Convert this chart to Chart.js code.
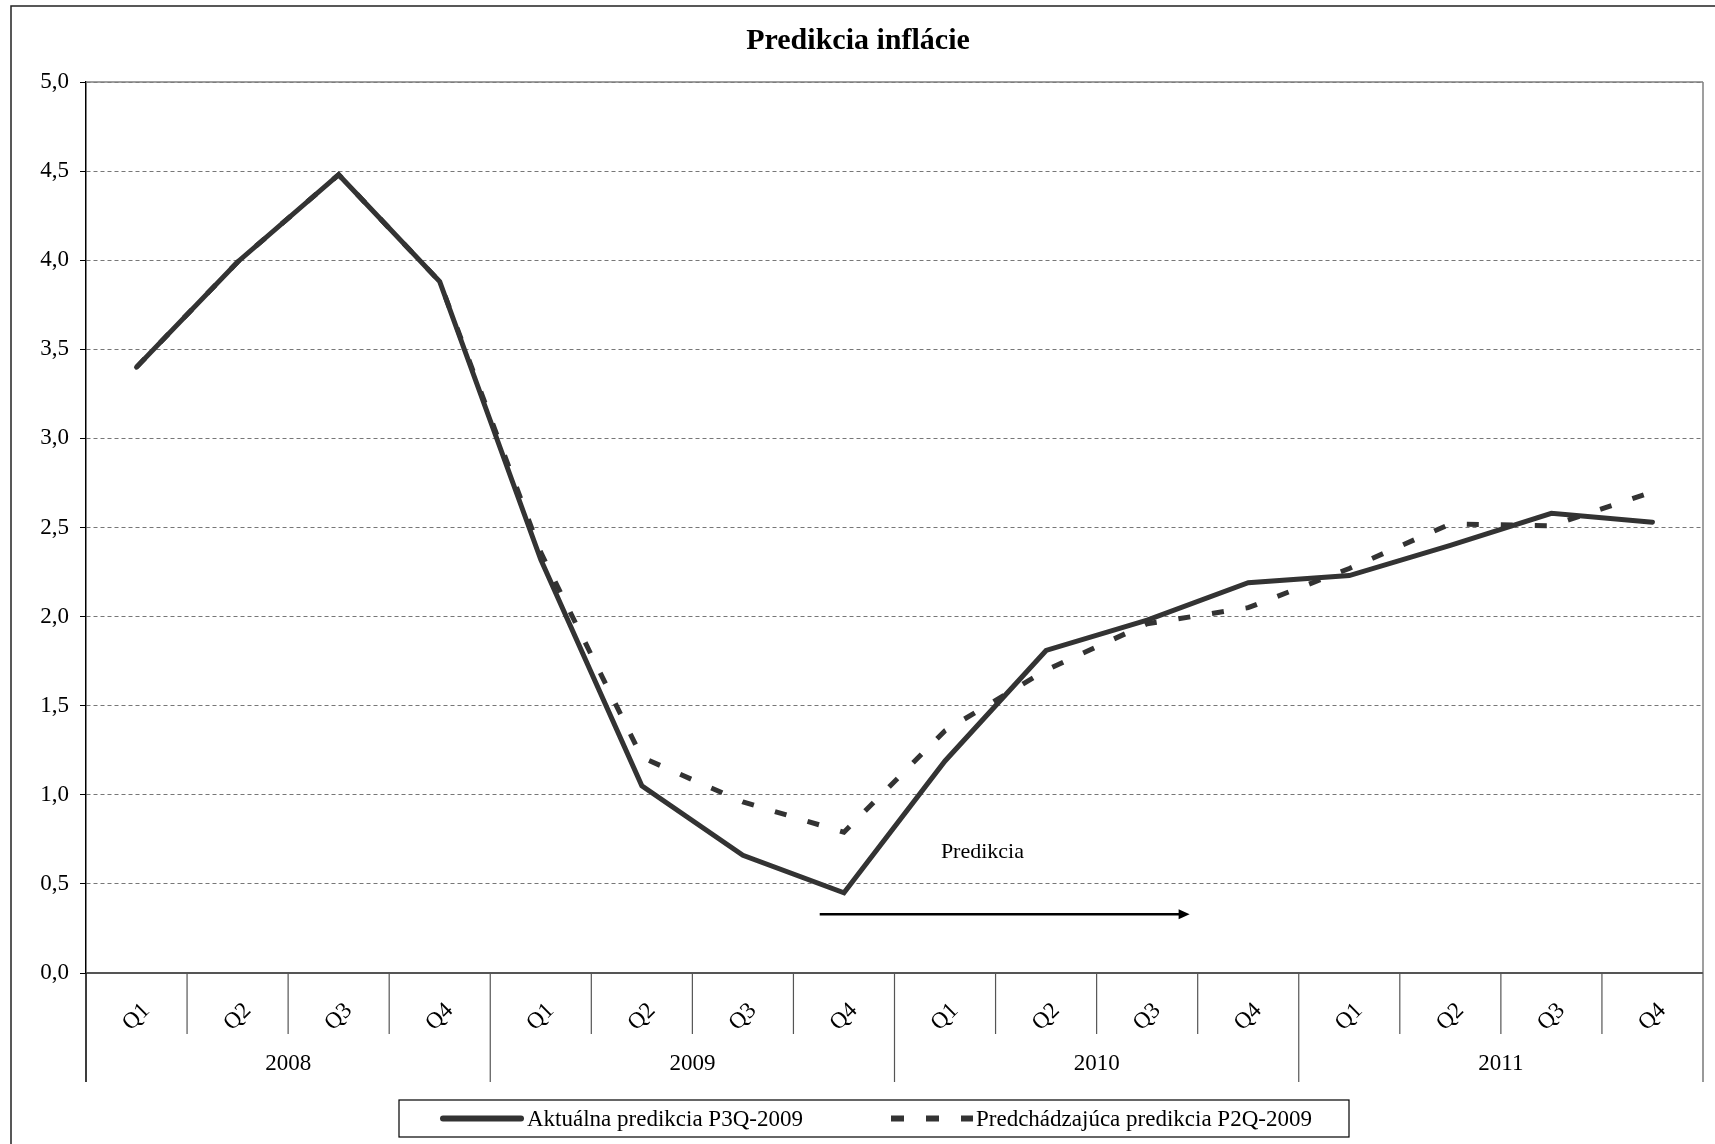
<!DOCTYPE html>
<html>
<head>
<meta charset="utf-8">
<script src="https://cdn.jsdelivr.net/npm/chart.js@4.4.1/dist/chart.umd.min.js"></script>
<style>
html,body{margin:0;padding:0;background:#fff;}
canvas{display:block;}
</style>
</head>
<body>
<canvas id="c" width="1715" height="1144"></canvas>
<script>
// ---- data ----
const quarters = ['Q1','Q2','Q3','Q4','Q1','Q2','Q3','Q4','Q1','Q2','Q3','Q4','Q1','Q2','Q3','Q4'];
const years = ['2008','2009','2010','2011'];
const aktualna = [3.40,3.99,4.48,3.88, 2.32,1.05,0.66,0.45, 1.19,1.81,1.98,2.19, 2.23,2.40,2.58,2.53];
const predchadzajuca = [3.40,3.99,4.48,3.88, 2.36,1.21,0.96,0.79, 1.36,1.70,1.96,2.05, 2.27,2.52,2.51,2.70];
const seriesNames = ['Aktuálna predikcia P3Q-2009','Predchádzajúca predikcia P2Q-2009'];
const titleText = 'Predikcia inflácie';
const annotationText = 'Predikcia';
const yMin = 0, yMax = 5, yStep = 0.5;
// annotation anchors in data units (category index, value)
const annotationLabelAt = [8.37, 0.68];
const arrowFrom = [6.76, 0.33];
const arrowTo = [10.42, 0.33];

const FONT = 'Liberation Serif, Times New Roman, serif';
const LINE = '#333333';

const decorPlugin = {
  id: 'decor',
  beforeDraw(chart) {
    const ctx = chart.ctx;
    ctx.save();
    ctx.fillStyle = '#fff';
    ctx.fillRect(0, 0, chart.width, chart.height);
    ctx.restore();
  },
  beforeDatasetsDraw(chart) {
    const ctx = chart.ctx, ca = chart.chartArea;
    ctx.save();
    ctx.strokeStyle = '#808080';
    ctx.lineWidth = 1.5;
    ctx.beginPath();
    ctx.moveTo(ca.left, ca.top);
    ctx.lineTo(ca.right, ca.top);
    ctx.moveTo(ca.right, ca.top);
    ctx.lineTo(ca.right, ca.bottom);
    ctx.stroke();
    ctx.restore();
  },
  afterDraw(chart) {
    const ctx = chart.ctx, ca = chart.chartArea;
    const xs = chart.scales.x, ys = chart.scales.y;
    ctx.save();
    // outer frame
    ctx.strokeStyle = '#222';
    ctx.lineWidth = 1.5;
    ctx.strokeRect(11, 6, chart.width + 10, chart.height + 10);

    // title
    ctx.fillStyle = '#000';
    ctx.font = 'bold 30px ' + FONT;
    ctx.textAlign = 'center';
    ctx.textBaseline = 'middle';
    ctx.fillText(titleText, 858, 41);

    // x axis line
    ctx.strokeStyle = '#555';
    ctx.lineWidth = 2;
    ctx.beginPath();
    ctx.moveTo(ca.left, ca.bottom);
    ctx.lineTo(ca.right, ca.bottom);
    ctx.stroke();

    // category separators
    ctx.lineWidth = 1.2;
    ctx.strokeStyle = '#555';
    for (let i = 0; i <= quarters.length; i++) {
      const px = xs.getPixelForValue(i - 0.5);
      const yearEdge = (i % 4 === 0);
      ctx.beginPath();
      ctx.moveTo(px, ca.bottom);
      ctx.lineTo(px, ca.bottom + (yearEdge ? 109 : 61));
      ctx.stroke();
    }
    ctx.strokeStyle = '#000';
    ctx.beginPath();
    ctx.moveTo(ca.left, ca.bottom);
    ctx.lineTo(ca.left, ca.bottom + 109);
    ctx.stroke();

    // quarter labels (rotated)
    ctx.fillStyle = '#000';
    ctx.font = '23px ' + FONT;
    ctx.textAlign = 'center';
    ctx.textBaseline = 'middle';
    for (let i = 0; i < quarters.length; i++) {
      const px = xs.getPixelForValue(i);
      ctx.save();
      ctx.translate(px, ca.bottom + 44);
      ctx.rotate(-Math.PI / 4);
      ctx.fillText(quarters[i], 0, 0);
      ctx.restore();
    }
    // year labels
    ctx.font = '23px ' + FONT;
    for (let k = 0; k < years.length; k++) {
      const px = xs.getPixelForValue(k * 4 + 1.5);
      ctx.fillText(years[k], px, ca.bottom + 91);
    }

    // annotation text + arrow
    ctx.font = '22px ' + FONT;
    ctx.fillText(annotationText, xs.getPixelForValue(annotationLabelAt[0]), ys.getPixelForValue(annotationLabelAt[1]));
    const ax1 = xs.getPixelForValue(arrowFrom[0]), ay = ys.getPixelForValue(arrowFrom[1]);
    const ax2 = xs.getPixelForValue(arrowTo[0]);
    ctx.strokeStyle = '#000';
    ctx.lineWidth = 2.5;
    ctx.beginPath();
    ctx.moveTo(ax1, ay);
    ctx.lineTo(ax2 - 8, ay);
    ctx.stroke();
    ctx.fillStyle = '#000';
    ctx.beginPath();
    ctx.moveTo(ax2, ay);
    ctx.lineTo(ax2 - 11, ay - 5);
    ctx.lineTo(ax2 - 11, ay + 5);
    ctx.closePath();
    ctx.fill();

    // legend box
    const lx = 399, ly = 1100, lw = 950, lh = 37;
    ctx.strokeStyle = '#000';
    ctx.lineWidth = 1.2;
    ctx.strokeRect(lx, ly, lw, lh);
    const cy = ly + lh / 2;
    ctx.strokeStyle = LINE;
    ctx.lineWidth = 6;
    ctx.lineCap = 'round';
    ctx.beginPath();
    ctx.moveTo(443, cy);
    ctx.lineTo(521, cy);
    ctx.stroke();
    ctx.fillStyle = '#000';
    ctx.font = '23px ' + FONT;
    ctx.textAlign = 'left';
    ctx.fillText(seriesNames[0], 527, cy + 1);
    ctx.lineCap = 'butt';
    ctx.setLineDash([13, 22]);
    ctx.beginPath();
    ctx.moveTo(891, cy);
    ctx.lineTo(973, cy);
    ctx.stroke();
    ctx.setLineDash([]);
    ctx.fillText(seriesNames[1], 976, cy + 1);
    ctx.restore();
  }
};

new Chart(document.getElementById('c'), {
  type: 'line',
  data: {
    labels: quarters,
    datasets: [
      {
        label: seriesNames[0],
        data: aktualna,
        borderColor: LINE,
        borderWidth: 5,
        borderCapStyle: 'round',
        borderJoinStyle: 'miter',
        pointRadius: 0,
        tension: 0,
        fill: false
      },
      {
        label: seriesNames[1],
        data: predchadzajuca,
        borderColor: LINE,
        borderWidth: 5,
        borderDash: [12, 22],
        borderCapStyle: 'butt',
        pointRadius: 0,
        tension: 0,
        fill: false
      }
    ]
  },
  options: {
    responsive: false,
    animation: false,
    devicePixelRatio: 1,
    layout: { padding: { left: 0, top: 82, right: 12, bottom: 171 } },
    plugins: {
      legend: { display: false },
      title: { display: false },
      tooltip: { enabled: false }
    },
    scales: {
      x: {
        type: 'category',
        offset: true,
        grid: { display: false },
        border: { display: false },
        ticks: { display: false },
        afterFit(s) { s.height = 0; }
      },
      y: {
        min: yMin,
        max: yMax,
        afterFit(s) { s.width = 86; },
        ticks: {
          stepSize: yStep,
          color: '#000',
          padding: 11,
          font: { family: FONT, size: 23 },
          callback: (v) => Number(v).toFixed(1).replace('.', ',')
        },
        grid: { color: '#777', lineWidth: 1, tickLength: 6, tickColor: '#000', drawTicks: true },
        border: { display: true, color: '#000', width: 1.5, dash: [4, 3] }
      }
    }
  },
  plugins: [decorPlugin]
});
</script>
</body>
</html>
